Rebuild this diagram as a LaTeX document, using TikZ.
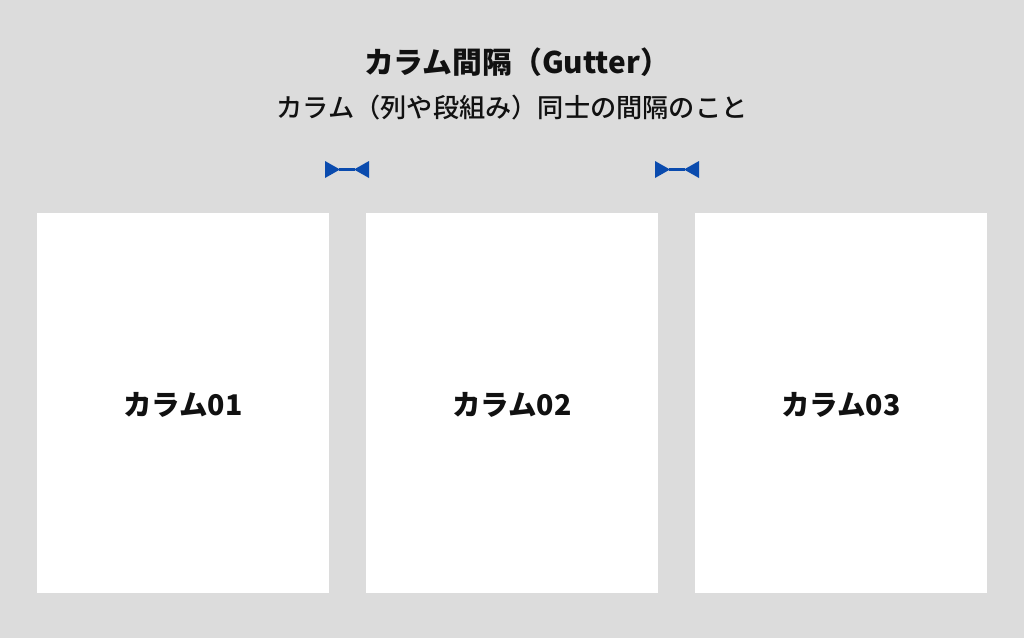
\documentclass[tikz,border=0pt]{standalone}
\usepackage{fontspec}
\newfontfamily\jp{Noto Sans CJK JP}
\newfontfamily\jpmed{Noto Sans CJK JP Medium}
\definecolor{bgcol}{HTML}{DCDCDC}
\definecolor{markblue}{HTML}{0A4BAE}
\definecolor{txt}{HTML}{111111}
\begin{document}
\begin{tikzpicture}[x=1pt,y=-1pt,
  colbox/.style={fill=white,draw=none},
  collabel/.style={font=\jp\bfseries\fontsize{28.5}{32}\selectfont,text=txt,inner sep=0pt},
  gutmark/.style={fill=markblue,draw=none}]
\fill[bgcol] (0,0) rectangle (1024,638);
\useasboundingbox (0,0) rectangle (1024,638);
\node[font=\jp\bfseries\fontsize{29.8}{34}\selectfont,text=txt,inner sep=0pt] (title) at (517,62) {カラム間隔（Gutter）};
\node[font=\jpmed\fontsize{26.2}{30}\selectfont,text=txt,inner sep=0pt] (sub) at (512,108) {カラム（列や段組み）同士の間隔のこと};
\foreach \i/\x in {1/37,2/366,3/695}{
  \fill[colbox] (\x,213) rectangle ++(292,380);
  \node[collabel] (c\i) at (\x+146,405) {カラム0\i};
}
\foreach \x in {325,655}{
  \fill[gutmark] (\x,161) -- (\x+15,169.5) -- (\x,178) -- cycle;
  \fill[gutmark] (\x+44,161) -- (\x+29,169.5) -- (\x+44,178) -- cycle;
  \draw[markblue,line width=2.5pt] (\x+14,169.5) -- (\x+30,169.5);
}
\end{tikzpicture}
\end{document}
